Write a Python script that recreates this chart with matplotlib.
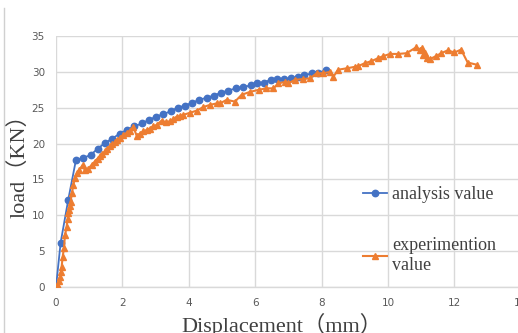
import matplotlib
matplotlib.use("Agg")
import matplotlib.pyplot as plt
from matplotlib.lines import Line2D

analysis_x = [0, 0.14, 0.37, 0.6, 0.82, 1.04, 1.26, 1.48, 1.7, 1.92, 2.13, 2.36, 2.58, 2.8,
              3.01, 3.23, 3.45, 3.66, 3.89, 4.1, 4.32, 4.54, 4.76, 4.97, 5.19, 5.42, 5.64,
              5.86, 6.05, 6.25, 6.47, 6.67, 6.87, 7.07, 7.28, 7.48, 7.7, 7.9, 8.13]
analysis_y = [0, 6.2, 12.2, 17.7, 18.0, 18.4, 19.3, 20.1, 20.7, 21.4, 21.9, 22.4, 22.8, 23.3,
              23.75, 24.1, 24.5, 25.0, 25.3, 25.7, 26.1, 26.4, 26.7, 27.1, 27.4, 27.7, 27.9,
              28.1, 28.4, 28.5, 28.9, 29.05, 29.0, 29.1, 29.3, 29.5, 29.8, 29.9, 30.2]

exp_x = [0, 0.05, 0.1, 0.12, 0.15, 0.17, 0.2, 0.24, 0.27, 0.32, 0.35, 0.37, 0.4, 0.42, 0.44,
         0.48, 0.52, 0.57, 0.64, 0.7, 0.8, 0.87, 0.97, 1.07, 1.17, 1.25, 1.33, 1.4, 1.48, 1.55,
         1.63, 1.7, 1.78, 1.85, 1.93, 2.03, 2.13, 2.23, 2.33, 2.43, 2.53, 2.63, 2.73, 2.83,
         2.93, 3.03, 3.18, 3.3, 3.43, 3.53, 3.63, 3.73, 3.83, 4.04, 4.24, 4.44, 4.64, 4.84,
         4.94, 5.14, 5.39, 5.59, 5.84, 6.1, 6.34, 6.55, 6.7, 6.9, 7.0, 7.2, 7.45, 7.65, 7.85,
         8.05, 8.25, 8.35, 8.5, 8.76, 9.0, 9.1, 9.3, 9.5, 9.7, 9.86, 10.06, 10.3, 10.56, 10.84,
         10.96, 11.01, 11.06, 11.1, 11.17, 11.27, 11.45, 11.6, 11.8, 12.0, 12.2, 12.4, 12.67]
exp_y = [0, 0.2, 0.8, 1.4, 2.1, 2.8, 4.2, 5.4, 7.2, 8.4, 9.5, 10.3, 10.7, 11.3, 11.9,
         13.1, 14.2, 15.2, 15.9, 16.3, 17.0, 16.3, 16.5, 17.0, 17.5, 17.9, 18.3, 18.6, 18.9, 19.3,
         19.6, 19.9, 20.2, 20.5, 20.8, 21.2, 21.5, 21.8, 22.3, 21.1, 21.4, 21.7, 21.9, 22.1,
         22.4, 22.6, 23.2, 23.0, 23.1, 23.4, 23.75, 23.8, 24.0, 24.3, 24.6, 25.1, 25.4, 25.6,
         25.6, 26.1, 25.85, 26.8, 27.2, 27.5, 27.7, 27.7, 28.4, 28.6, 28.4, 28.9, 29.0, 29.1, 29.8,
         29.8, 30.0, 29.3, 30.3, 30.5, 30.7, 30.8, 31.2, 31.5, 31.9, 32.2, 32.5, 32.5, 32.6, 33.4,
         33.1, 33.3, 32.4, 32.6, 32.0, 31.8, 32.2, 32.6, 33.0, 32.7, 33.1, 31.3, 31.0]

x_ticks = [0, 2, 4, 6, 8, 10, 12, 14]
y_ticks = [0, 5, 10, 15, 20, 25, 30, 35]

W, H = 518, 333
fig = plt.figure(figsize=(W / 100, H / 100), dpi=100)
ax = fig.add_axes([56 / W, (H - 287) / H, (520.8 - 56) / W, (287 - 36) / H])

blue = "#4472C4"
orange = "#ED7D31"
grid_c = "#D9D9D9"
serif = ["Liberation Serif", "Noto Sans CJK SC"]

ax.plot(analysis_x, analysis_y, color=blue, marker="o", markersize=4.6, linewidth=1.3,
        label="analysis value", zorder=3)
ax.plot(exp_x, exp_y, color=orange, marker="^", markersize=5, linewidth=1.5,
        label="experimention\nvalue", zorder=4)

ax.set_xlim(0, 14)
ax.set_ylim(0, 35)
ax.set_xticks(x_ticks)
ax.set_yticks(y_ticks)
ax.grid(True, color=grid_c, linewidth=1.0)
ax.set_axisbelow(True)
for s in ["top", "right", "left"]:
    ax.spines[s].set_visible(False)
ax.spines["bottom"].set_color(grid_c)
ax.spines["bottom"].set_linewidth(1.0)
ax.tick_params(length=0, labelsize=7.5, labelcolor="#595959", pad=8)

ax.set_ylabel("load（KN）", family=serif, fontsize=16, color="#404040")
ax.yaxis.set_label_coords(-0.058, 0.505)
ax.set_xlabel("Displacement（mm）", family=serif, fontsize=16, color="#404040")
ax.xaxis.set_label_coords(0.486, -0.102)

leg = ax.legend(loc="upper left", bbox_to_anchor=(363 / W, 1 - 186 / H),
                bbox_transform=fig.transFigure, frameon=False, prop={"family": serif, "size": 13},
                labelcolor="#404040", handlelength=1.35, handletextpad=0.25, labelspacing=1.9,
                borderpad=0, borderaxespad=0)

fig.add_artist(Line2D([3.5 / W, 3.5 / W], [0, 1 - 8 / H], color="#D0D0D0", linewidth=1.0))

fig.savefig("out.png", dpi=100)
